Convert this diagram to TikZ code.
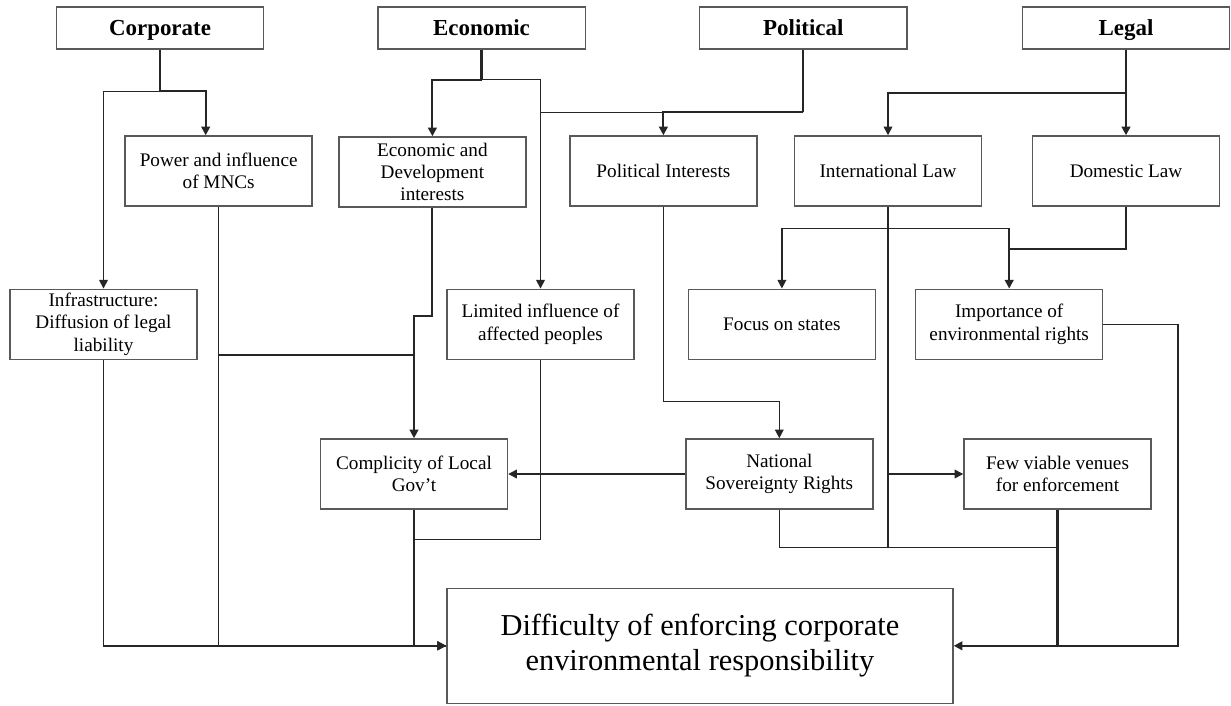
\documentclass[tikz,border=0pt]{standalone}
\usepackage{fontspec}
\setmainfont{Liberation Serif}
\usetikzlibrary{arrows.meta}
\begin{document}
\begin{tikzpicture}[x=0.75pt,y=-0.75pt]
\tikzset{
  box/.style={draw=black!65, line width=1.1pt, fill=white, align=center, inner sep=1pt,
    font=\fontsize{14.4pt}{16.8pt}\selectfont, minimum width=140.25pt, minimum height=52.5pt},
  topbox/.style={box, minimum width=155.6pt, minimum height=31.5pt, text height=12pt, text depth=0pt,
    font=\fontsize{17.2pt}{20pt}\selectfont\bfseries},
  bigbox/.style={box, minimum width=379.65pt, minimum height=86.25pt,
    font=\fontsize{22.8pt}{26.4pt}\selectfont},
  con/.style={line width=1.1pt, draw=black!85},
  thk/.style={line width=1.6pt},
  arr/.style={con, -{Triangle[length=6.5pt,width=6.5pt]}}
}
\useasboundingbox (0,0) rectangle (1231,706);
% top row
\node[topbox] (corp)  at (160,28)    {Corporate};
\node[topbox] (econ)  at (481.5,28)  {Economic};
\node[topbox] (pol)   at (803.3,28)  {Political};
\node[topbox] (legal) at (1126,28)   {Legal};
% second row
\node[box] (pow)    at (218.7,171) {Power and influence\\of MNCs};
\node[box] (edev)   at (432.4,172) {Economic and\\Development\\interests};
\node[box] (polint) at (663.4,171) {Political Interests};
\node[box] (intl)   at (888,171)   {International Law};
\node[box] (dom)    at (1126,171)  {Domestic Law};
% third row
\node[box] (infra)  at (103.5,324.3) {Infrastructure:\\Diffusion of legal\\liability};
\node[box] (lim)    at (540.5,324.3) {Limited influence of\\affected peoples};
\node[box] (focus)  at (781.9,324.3) {Focus on states};
\node[box] (imp)    at (1009.2,324.3) {Importance of\\environmental rights};
% fourth row
\node[box] (compl)  at (414,474)    {Complicity of Local\\Gov’t};
\node[box] (nat)    at (779.3,474)  {National\\Sovereignty Rights};
\node[box] (few)    at (1057.5,474) {Few viable venues\\for enforcement};
% bottom
\node[bigbox] (bot) at (699.9,645.8) {Difficulty of enforcing corporate\\environmental responsibility};

% Corporate
\draw[con,thk] (corp.south) -- ++(0,41.7) coordinate (cj);
\draw[arr] (cj) -| (infra.north);
\draw[arr,thk] (cj) -| ([xshift=-9.75pt]pow.north);
% Economic
\draw[con,thk] (econ.south) -- ++(0,30) coordinate (ej);
\draw[arr,thk] (ej) -| (edev.north);
\draw[arr] (ej) -| (lim.north);
% Political
\draw[con,thk] (pol.south) -- ++(0,62.7) coordinate (pj);
\draw[arr,thk] (pj) -| (polint.north);
\draw[con] (pj) -- (pj -| lim.north);
% Legal
\draw[arr,thk] (legal.south) -- (dom.north);
\path (legal.south) ++(0,43.3) coordinate (lj);
\draw[arr] (lj) -| (intl.north);
% Power and influence
\draw[arr] (pow.south) |- (bot.west);
\path (pow.south) ++(0,148.3) coordinate (pw);
\draw[con] (pw) -- (pw -| compl.north);
% Economic and development
\draw[arr,thk] (edev.south) -- ++(0,108) -| (compl.north);
% Infrastructure
\draw[arr] (infra.south) |- (bot.west);
% Limited influence
\path (compl.south) ++(0,30) coordinate (cm);
\draw[con] (lim.south) |- (cm);
\draw[arr,thk] (compl.south) |- (bot.west);
\draw[con,thk] (pow.south |- bot.west) -- (bot.west);
% Political interests
\draw[arr] (polint.south) -- ++(0,194.7) -| (nat.north);
\draw[arr] (nat.west) -- (compl.east);
% International law
\path (intl.south) ++(0,21.7) coordinate (ij);
\draw[arr] (ij -| focus.north) -- (focus.north);
\draw[con] (ij -| focus.north) -- (ij -| imp.north);
\draw[arr,thk] (ij -| imp.north) -- (imp.north);
\path (nat.south) ++(0,37.7) coordinate (nj);
\draw[con,thk] (intl.south) -- (intl.south |- nj);
\draw[arr] (intl.south |- few.west) -- (few.west);
% Domestic law
\path (dom.south) ++(0,42.3) coordinate (dj);
\draw[con] (dom.south) -- (dj) -- (dj -| imp.north);
% National sovereignty
\draw[con] (nat.south) |- (nj -| few.south);
% Few viable venues
\draw[arr,thk] (few.south) |- (bot.east);
% Importance
\draw[con] (imp.east) -- ++(74.4,0) |- (bot.east -| few.south);
\end{tikzpicture}
\end{document}
